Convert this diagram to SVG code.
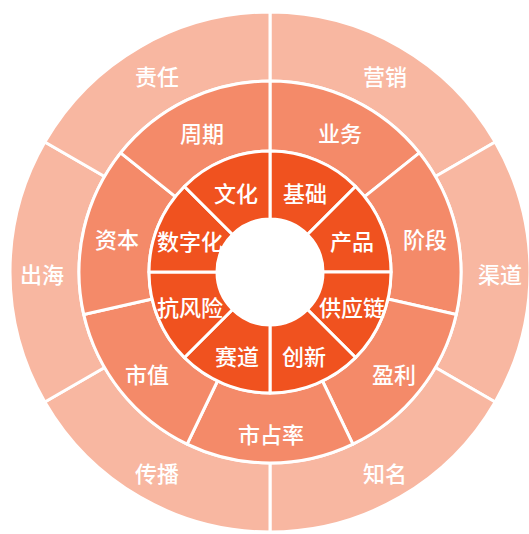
<svg xmlns="http://www.w3.org/2000/svg" width="529" height="534" viewBox="0 0 529 534">
<style>
.o{fill:#F8B7A1;stroke:#fff;stroke-width:3;stroke-linejoin:round}
.m{fill:#F48A69;stroke:#fff;stroke-width:3;stroke-linejoin:round}
.i{fill:#F0521F;stroke:#fff;stroke-width:3;stroke-linejoin:round}
text{fill:#fff;font-family:"Noto Sans CJK SC","Noto Sans",sans-serif;font-size:22px;font-weight:500;text-anchor:middle;dominant-baseline:central}
</style>
<rect width="529" height="534" fill="#fff"/>
<g id="outer-ring">
<g id="yingxiao"><path class="o" d="M270,12 A260,260 0 0 1 495.17,142 L435.41,176.5 A191,191 0 0 0 270,81 Z"/><text x="385" y="75">营销</text></g>
<g id="qudao"><path class="o" d="M495.17,142 A260,260 0 0 1 495.17,402 L435.41,367.5 A191,191 0 0 0 435.41,176.5 Z"/><text x="500" y="273">渠道</text></g>
<g id="zhiming"><path class="o" d="M495.17,402 A260,260 0 0 1 270,532 L270,463 A191,191 0 0 0 435.41,367.5 Z"/><text x="385" y="472">知名</text></g>
<g id="chuanbo"><path class="o" d="M270,532 A260,260 0 0 1 44.83,402 L104.59,367.5 A191,191 0 0 0 270,463 Z"/><text x="157" y="472">传播</text></g>
<g id="chuhai"><path class="o" d="M44.83,402 A260,260 0 0 1 44.83,142 L104.59,176.5 A191,191 0 0 0 104.59,367.5 Z"/><text x="42" y="273">出海</text></g>
<g id="zeren"><path class="o" d="M44.83,142 A260,260 0 0 1 270,12 L270,81 A191,191 0 0 0 104.59,176.5 Z"/><text x="157" y="75">责任</text></g>
</g>
<g id="middle-ring">
<g id="yewu"><path class="m" d="M270,81 A191,191 0 0 1 419.33,152.91 L364.60,196.56 A121,121 0 0 0 270,151 Z"/><text x="340" y="132">业务</text></g>
<g id="jieduan"><path class="m" d="M419.33,152.91 A191,191 0 0 1 456.21,314.50 L387.97,298.92 A121,121 0 0 0 364.60,196.56 Z"/><text x="425" y="238">阶段</text></g>
<g id="yingli"><path class="m" d="M456.21,314.50 A191,191 0 0 1 352.87,444.09 L322.50,381.02 A121,121 0 0 0 387.97,298.92 Z"/><text x="394" y="373">盈利</text></g>
<g id="shizhanlv"><path class="m" d="M352.87,444.09 A191,191 0 0 1 187.13,444.09 L217.50,381.02 A121,121 0 0 0 322.50,381.02 Z"/><text x="271" y="433">市占率</text></g>
<g id="shizhi"><path class="m" d="M187.13,444.09 A191,191 0 0 1 83.79,314.50 L152.03,298.92 A121,121 0 0 0 217.50,381.02 Z"/><text x="147" y="373">市值</text></g>
<g id="ziben"><path class="m" d="M83.79,314.50 A191,191 0 0 1 120.67,152.91 L175.40,196.56 A121,121 0 0 0 152.03,298.92 Z"/><text x="117" y="238">资本</text></g>
<g id="zhouqi"><path class="m" d="M120.67,152.91 A191,191 0 0 1 270,81 L270,151 A121,121 0 0 0 175.40,196.56 Z"/><text x="202" y="132">周期</text></g>
</g>
<g id="inner-ring">
<g id="jichu"><path class="i" d="M270,151 A121,121 0 0 1 355.56,186.44 L307.48,234.52 A53,53 0 0 0 270,219 Z"/><text x="305" y="192">基础</text></g>
<g id="chanpin"><path class="i" d="M355.56,186.44 A121,121 0 0 1 391,272 L323,272 A53,53 0 0 0 307.48,234.52 Z"/><text x="352" y="240">产品</text></g>
<g id="gongyinglian"><path class="i" d="M391,272 A121,121 0 0 1 355.56,357.56 L307.48,309.48 A53,53 0 0 0 323,272 Z"/><text x="352" y="306">供应链</text></g>
<g id="chuangxin"><path class="i" d="M355.56,357.56 A121,121 0 0 1 270,393 L270,325 A53,53 0 0 0 307.48,309.48 Z"/><text x="304" y="355">创新</text></g>
<g id="saidao"><path class="i" d="M270,393 A121,121 0 0 1 184.44,357.56 L232.52,309.48 A53,53 0 0 0 270,325 Z"/><text x="237" y="355">赛道</text></g>
<g id="kangfengxian"><path class="i" d="M184.44,357.56 A121,121 0 0 1 149,272 L217,272 A53,53 0 0 0 232.52,309.48 Z"/><text x="190" y="306">抗风险</text></g>
<g id="shuzihua"><path class="i" d="M149,272 A121,121 0 0 1 184.44,186.44 L232.52,234.52 A53,53 0 0 0 217,272 Z"/><text x="190" y="240">数字化</text></g>
<g id="wenhua"><path class="i" d="M184.44,186.44 A121,121 0 0 1 270,151 L270,219 A53,53 0 0 0 232.52,234.52 Z"/><text x="236" y="192">文化</text></g>
</g>
<g id="connectors"/>
</svg>
